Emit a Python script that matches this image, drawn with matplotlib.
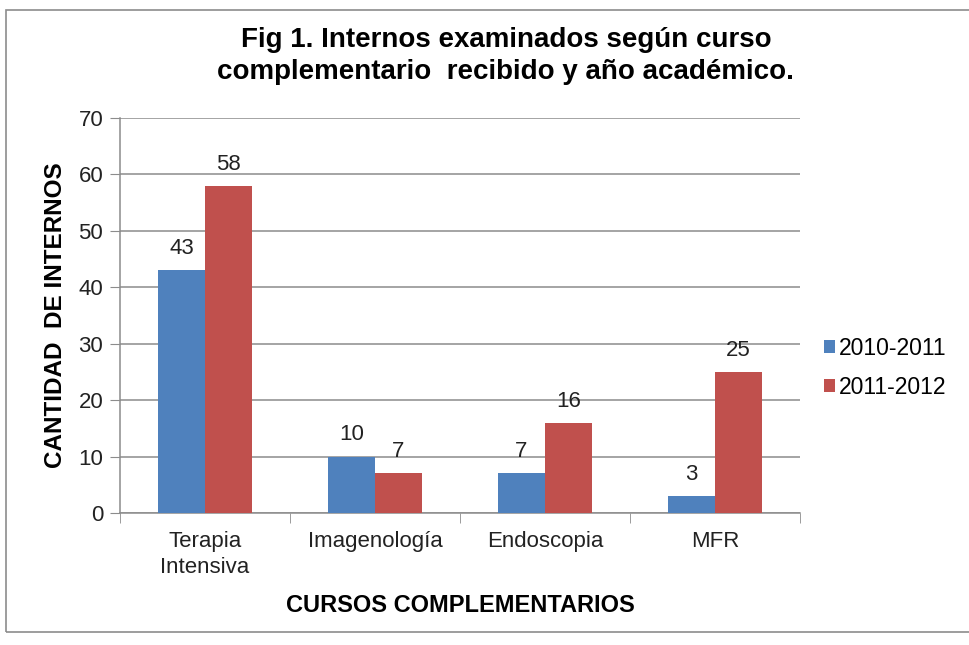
import matplotlib
matplotlib.use('Agg')
import matplotlib.pyplot as plt
import numpy as np

# data
cursos = ['Terapia\nIntensiva', 'Imagenología', 'Endoscopia', 'MFR']
serie_2010 = [43, 10, 7, 3]
serie_2011 = [58, 7, 16, 25]
etiquetas = ['2010-2011', '2011-2012']
y_ticks = [0, 10, 20, 30, 40, 50, 60, 70]

plt.rcParams['font.family'] = ['Liberation Sans', 'DejaVu Sans']

fig = plt.figure(figsize=(9.69, 6.45), dpi=100)
ax = fig.add_axes([0.1238, 0.2047, 0.7018, 0.6124])

# outer border of the chart
fig.patches.append(plt.Rectangle((0.006, 0.02), 1.2, 0.965, transform=fig.transFigure,
                                 fill=False, edgecolor='#8c8c8c', linewidth=1.2))

x = np.arange(len(cursos))
w = 0.277
azul = '#4F81BD'
rojo = '#C0504D'
b1 = ax.bar(x - w / 2, serie_2010, w, color=azul, label=etiquetas[0], zorder=3)
b2 = ax.bar(x + w / 2, serie_2011, w, color=rojo, label=etiquetas[1], zorder=3)

for bars in (b1, b2):
    ax.bar_label(bars, padding=8, fontsize=16, color='#222222')

ax.set_xlim(-0.5, len(cursos) - 0.5)
ax.set_ylim(0, 70)
ax.set_yticks(y_ticks)
ax.yaxis.grid(True, color='#8c8c8c', linewidth=1.1, zorder=0)
ax.set_axisbelow(True)

for s in ['top', 'right']:
    ax.spines[s].set_visible(False)
for s in ['left', 'bottom']:
    ax.spines[s].set_color('#8c8c8c')
    ax.spines[s].set_linewidth(1.1)

ax.tick_params(axis='y', length=7, color='#8c8c8c', labelsize=16, pad=5, labelcolor='#222222')
ax.set_xticks(x)
ax.set_xticklabels(cursos, fontsize=16, color='#222222', linespacing=1.3)
ax.tick_params(axis='x', length=0, pad=13)
# tick marks between categories
ax.set_xticks(np.arange(len(cursos) + 1) - 0.5, minor=True)
ax.tick_params(axis='x', which='minor', length=7, color='#8c8c8c')

ax.set_ylabel('CANTIDAD  DE INTERNOS', fontsize=17.5, fontweight='bold', labelpad=8)
ax.set_xlabel('CURSOS COMPLEMENTARIOS', fontsize=17, fontweight='bold', labelpad=12)

fig.text(0.522, 0.913, 'Fig 1. Internos examinados según curso\ncomplementario  recibido y año académico.',
         ha='center', va='center', fontsize=20, fontweight='bold', linespacing=1.33)

ax.legend(loc='center left', bbox_to_anchor=(1.005, 0.367), frameon=False, fontsize=16.5,
          handlelength=0.5, handleheight=0.5, handletextpad=0.15, labelspacing=0.7)

plt.savefig('out.png', dpi=100)
